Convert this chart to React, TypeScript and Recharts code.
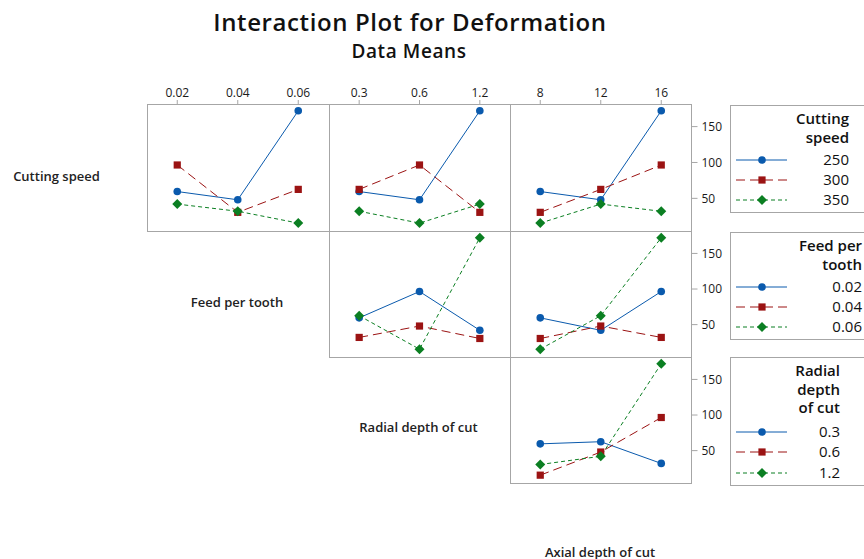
import React from "react";
import { LineChart, Line, XAxis, YAxis } from "recharts";

// factor levels (tick labels)
const cuttingSpeed = ["250", "300", "350"];
const feedPerTooth = ["0.02", "0.04", "0.06"];
const radialDepth = ["0.3", "0.6", "1.2"];
const axialDepth = ["8", "12", "16"];

// means, one row per line level
const csByFeed = [
  [59.5, 48, 172],
  [96.5, 30.5, 62.5],
  [42, 32, 15.5],
];
const csByRadial = [
  [59.5, 48, 172],
  [62.5, 96.5, 30.5],
  [32, 15.5, 42],
];
const csByAxial = [
  [59.5, 48, 172],
  [30.5, 62.5, 96.5],
  [15.5, 42, 32],
];
const feedByRadial = [
  [59.5, 96.5, 42],
  [32, 48, 30.5],
  [62.5, 15.5, 172],
];
const feedByAxial = [
  [59.5, 42, 96.5],
  [30.5, 48, 32],
  [15.5, 62.5, 172],
];
const radialByAxial = [
  [59.5, 62.5, 32],
  [15.5, 48, 96.5],
  [30.5, 42, 172],
];

const yTicks = [50, 100, 150];

const FONT = "'Open Sans', 'Noto Sans', sans-serif";
const BORDER = "#a6a6a6";
const COLORS = ["#0a5aad", "#9b1313", "#0b7f22"];
const DASHES = [undefined, "9 5", "4 3"];

const COLS = [147, 328.5, 509.5, 691];
const ROWS = [104, 231, 357, 483];

function Marker({ kind, cx, cy, color }: { kind: number; cx: number; cy: number; color: string }) {
  if (kind === 0) return <circle cx={cx} cy={cy} r={3.8} fill={color} />;
  if (kind === 1) return <rect x={cx - 3.6} y={cy - 3.6} width={7.2} height={7.2} fill={color} />;
  return (
    <polygon
      points={`${cx},${cy - 5} ${cx + 5},${cy} ${cx},${cy + 5} ${cx - 5},${cy}`}
      fill={color}
    />
  );
}

const makeDot = (kind: number) => (props: any) => {
  const { cx, cy, index } = props;
  if (cx == null || cy == null) return <g key={index} />;
  return (
    <g key={`d${kind}-${index}`}>
      <Marker kind={kind} cx={cx} cy={cy} color={COLORS[kind]} />
    </g>
  );
};

interface PanelProps {
  col: number;
  row: number;
  xLabels: string[];
  series: number[][];
  top?: boolean;
  right?: boolean;
}

const Panel: React.FC<PanelProps> = ({ col, row, xLabels, series, top, right }) => {
  const x = COLS[col];
  const y = ROWS[row];
  const w = COLS[col + 1] - x;
  const h = ROWS[row + 1] - y;
  const topH = top ? 30 : 0;
  const rightW = right ? 45 : 0;
  const data = xLabels.map((_, i) => ({
    x: i + 1,
    s0: series[0][i],
    s1: series[1][i],
    s2: series[2][i],
  }));
  return (
    <div style={{ position: "absolute", left: x, top: y - topH }}>
      <LineChart
        width={w + rightW}
        height={h + topH}
        data={data}
        margin={{ top: 0, right: 0, bottom: 0, left: 0 }}
      >
        <XAxis
          type="number"
          dataKey="x"
          domain={[0.5, 3.5]}
          ticks={[1, 2, 3]}
          orientation="top"
          hide={!top}
          height={topH}
          axisLine={false}
          tickLine={{ stroke: BORDER }}
          tickSize={4}
          tickMargin={3}
          tick={{ fontSize: 12, fill: "#1a1a1a", fontFamily: FONT }}
          tickFormatter={(v: number) => xLabels[v - 1]}
        />
        <YAxis
          type="number"
          domain={[4.5, 181.5]}
          ticks={yTicks}
          orientation="right"
          hide={!right}
          width={rightW}
          axisLine={false}
          tickLine={{ stroke: BORDER }}
          tickSize={6}
          tickMargin={4}
          tick={{ fontSize: 12, fill: "#1a1a1a", fontFamily: FONT, textAnchor: "start" }}
        />
        {[0, 1, 2].map((k) => (
          <Line
            key={k}
            type="linear"
            dataKey={`s${k}`}
            stroke={COLORS[k]}
            strokeWidth={1}
            strokeDasharray={DASHES[k]}
            dot={makeDot(k)}
            activeDot={false}
            isAnimationActive={false}
          />
        ))}
      </LineChart>
      <div
        style={{
          position: "absolute",
          left: 0,
          top: topH,
          width: w + 1,
          height: h + 1,
          border: `1px solid ${BORDER}`,
          boxSizing: "border-box",
          pointerEvents: "none",
        }}
      />
    </div>
  );
};

interface LegendProps {
  top: number;
  bottom: number;
  title: string[];
  items: string[];
  textRight: number;
  titleBase: number;
  itemY: number[];
}

const LegendBox: React.FC<LegendProps> = ({ top, bottom, title, items, textRight, titleBase, itemY }) => (
  <g>
    <rect x={730.5} y={top + 0.5} width={200} height={bottom - top} fill="none" stroke={BORDER} />
    {title.map((t, i) => (
      <text
        key={t}
        x={textRight}
        y={titleBase + i * 18.5}
        textAnchor="end"
        fontSize={15}
        fontWeight={600}
        fill="#111"
      >
        {t}
      </text>
    ))}
    {items.map((it, k) => (
      <g key={it}>
        <line x1={736} x2={787} y1={itemY[k]} y2={itemY[k]} stroke={COLORS[k]} strokeDasharray={DASHES[k]} />
        <Marker kind={k} cx={762} cy={itemY[k]} color={COLORS[k]} />
        <text x={textRight} y={itemY[k] + 5} textAnchor="end" fontSize={15} fill="#111">
          {it}
        </text>
      </g>
    ))}
  </g>
);

export default function App() {
  return (
    <div
      style={{
        position: "absolute",
        left: 0,
        top: 0,
        width: 864,
        height: 559,
        overflow: "hidden",
        background: "#fff",
        fontFamily: FONT,
      }}
    >
      <svg width={864} height={559} style={{ position: "absolute", left: 0, top: 0 }} fontFamily={FONT}>
        <text x={410} y={30.5} textAnchor="middle" fontSize={24} fontWeight={600} letterSpacing={0.6} fill="#111">
          Interaction Plot for Deformation
        </text>
        <text x={409} y={58} textAnchor="middle" fontSize={19} fontWeight={600} letterSpacing={0.6} fill="#111">
          Data Means
        </text>
        <text x={56.5} y={181} textAnchor="middle" fontSize={13} fontWeight={600} fill="#222">
          Cutting speed
        </text>
        <text x={237} y={306.5} textAnchor="middle" fontSize={13} fontWeight={600} fill="#222">
          Feed per tooth
        </text>
        <text x={418.5} y={432} textAnchor="middle" fontSize={13} fontWeight={600} fill="#222">
          Radial depth of cut
        </text>
        <text x={600} y={556.5} textAnchor="middle" fontSize={13} fontWeight={600} fill="#222">
          Axial depth of cut
        </text>
        <LegendBox
          top={105}
          bottom={212}
          title={["Cutting", "speed"]}
          items={cuttingSpeed}
          textRight={849}
          titleBase={124}
          itemY={[160, 180, 200]}
        />
        <LegendBox
          top={232}
          bottom={339}
          title={["Feed per", "tooth"]}
          items={feedPerTooth}
          textRight={862}
          titleBase={251}
          itemY={[287, 307, 327]}
        />
        <LegendBox
          top={357}
          bottom={485}
          title={["Radial", "depth", "of cut"]}
          items={radialDepth}
          textRight={840}
          titleBase={376}
          itemY={[432, 452, 473]}
        />
      </svg>
      <Panel col={0} row={0} xLabels={feedPerTooth} series={csByFeed} top />
      <Panel col={1} row={0} xLabels={radialDepth} series={csByRadial} top />
      <Panel col={2} row={0} xLabels={axialDepth} series={csByAxial} top right />
      <Panel col={1} row={1} xLabels={radialDepth} series={feedByRadial} />
      <Panel col={2} row={1} xLabels={axialDepth} series={feedByAxial} right />
      <Panel col={2} row={2} xLabels={axialDepth} series={radialByAxial} right />
    </div>
  );
}
